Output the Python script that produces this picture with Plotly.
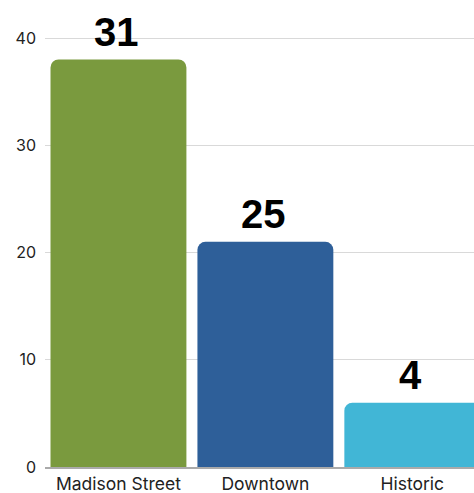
import plotly.graph_objects as go

categories = ["Madison Street", "Downtown", "Historic"]
bar_heights = [38, 21, 6]
value_labels = ["31", "25", "4"]
colors = ["#7A9A3E", "#2E5F99", "#41B6D6"]
y_ticks = [0, 10, 20, 30, 40]

fig = go.Figure()
fig.add_trace(go.Bar(
    x=categories, y=bar_heights,
    marker=dict(color=colors, cornerradius=8, line=dict(width=0)),
    hoverinfo="skip",
))
for c, h, t in zip(categories, bar_heights, value_labels):
    fig.add_annotation(x=c, y=h, text=f"<b>{t}</b>", showarrow=False,
                       yanchor="bottom", yshift=4, xshift=-2,
                       font=dict(family="Liberation Sans, Arial", size=40, color="#000000"))

fig.update_layout(
    width=474, height=493,
    margin=dict(l=45, r=0, t=0, b=26),
    paper_bgcolor="white", plot_bgcolor="white",
    bargap=0.075,
    showlegend=False,
    font=dict(family="Inter, Liberation Sans, Arial", size=16, color="#222222"),
)
fig.update_xaxes(range=[-0.5, 2.42], showline=True, linecolor="#aaaaaa", linewidth=2,
                 ticks="", tickfont=dict(size=17.5))
fig.update_yaxes(range=[0, 43.55], tickvals=y_ticks, showgrid=True, gridcolor="#d9d9d9",
                 gridwidth=1, zeroline=False, ticks="", ticklabelstandoff=8,
                 tickfont=dict(size=16))

fig.write_html("out.html")
